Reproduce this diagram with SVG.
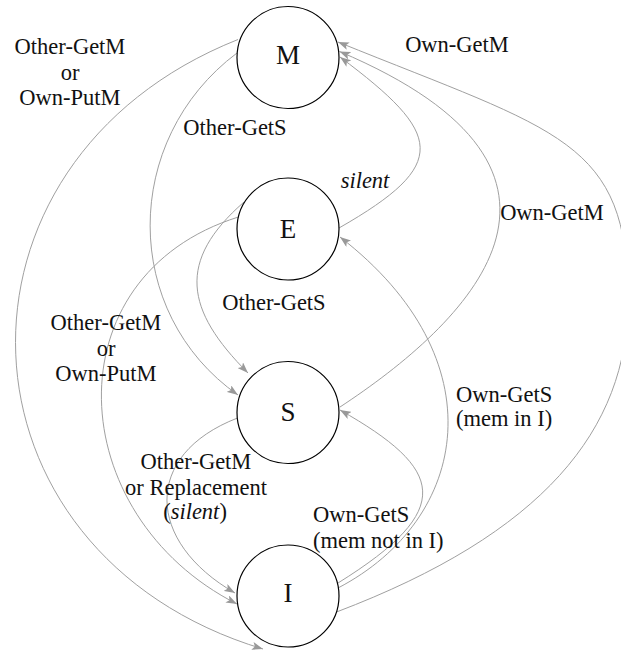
<svg xmlns="http://www.w3.org/2000/svg" width="621" height="654" viewBox="0 0 621 654">
  <defs>
    <marker id="arr" viewBox="0 0 11 8" refX="11" refY="4" markerWidth="11" markerHeight="8" orient="auto" markerUnits="userSpaceOnUse">
      <path d="M0,0 L11,4 L0,8 L2.5,4 Z" fill="#999"/>
    </marker>
    <style>
      .edge { fill: none; stroke: #a0a0a0; stroke-width: 1; marker-end: url(#arr); }
      .node circle { fill: #fff; stroke: #000; stroke-width: 1.2; }
      .node text { font-family: "Liberation Serif", serif; font-size: 27px; text-anchor: middle; fill: #111; }
      .lbl { font-family: "Liberation Serif", serif; font-size: 22.5px; fill: #111; }
      .c { text-anchor: middle; }
      .l { text-anchor: start; }
      .it { font-style: italic; }
    </style>
  </defs>
  <rect width="621" height="654" fill="#fff"/>

  <g id="connectors">
    <path id="e-M-I" class="edge" d="M238,39.5 C-70,162 -55,553 263,649"/>
    <path id="e-M-S" class="edge" d="M237,53 C121,140 121,313 238,395"/>
    <path id="e-E-S" class="edge" d="M244,202 C176.5,261 185,310 248,373"/>
    <path id="e-E-I" class="edge" d="M238.4,217 C50,276 62,515 237,604"/>
    <path id="e-S-I" class="edge" d="M237.5,418 C142,455 145.7,541.7 235,593"/>
    <path id="e-E-M" class="edge" d="M339,228 C451,164 443,134 340,57"/>
    <path id="e-S-M" class="edge" d="M340,407 C465.5,324.5 626.5,173 339.5,51.5"/>
    <path id="e-I-M" class="edge" d="M336.5,612 C542.6,533.8 628,430 628,300 C628,140 560,132 338,42"/>
    <path id="e-I-E" class="edge" d="M338,588 C470,519 498,359 340,237"/>
    <path id="e-I-S" class="edge" d="M338,583 C457,509 444,469 340,410"/>

    <g id="edge-labels">
      <text class="lbl c" x="70" y="54">Other-GetM</text>
      <text class="lbl c" x="70" y="80">or</text>
      <text class="lbl c" x="70" y="105">Own-PutM</text>

      <text class="lbl c" x="235" y="135">Other-GetS</text>
      <text class="lbl c it" x="365" y="188">silent</text>
      <text class="lbl c" x="457" y="52">Own-GetM</text>
      <text class="lbl c" x="552" y="220">Own-GetM</text>
      <text class="lbl c" x="274" y="310">Other-GetS</text>

      <text class="lbl c" x="106" y="330">Other-GetM</text>
      <text class="lbl c" x="106" y="356">or</text>
      <text class="lbl c" x="106" y="381">Own-PutM</text>

      <text class="lbl l" x="456" y="402">Own-GetS</text>
      <text class="lbl l" x="456" y="426">(mem in I)</text>

      <text class="lbl c" x="196" y="469">Other-GetM</text>
      <text class="lbl c" x="196" y="495">or Replacement</text>
      <text class="lbl c" x="195" y="519">(<tspan class="it">silent</tspan>)</text>

      <text class="lbl l" x="313" y="522">Own-GetS</text>
      <text class="lbl l" x="313" y="548">(mem not in I)</text>
    </g>
  </g>

  <g id="node-M" class="node">
    <circle cx="288" cy="57.5" r="51"/>
    <text x="288" y="64">M</text>
  </g>
  <g id="node-E" class="node">
    <circle cx="288" cy="229" r="51"/>
    <text x="288" y="237.5">E</text>
  </g>
  <g id="node-S" class="node">
    <circle cx="288" cy="412.5" r="51"/>
    <text x="288" y="421">S</text>
  </g>
  <g id="node-I" class="node">
    <circle cx="288" cy="596" r="51"/>
    <text x="288" y="602">I</text>
  </g>
</svg>
